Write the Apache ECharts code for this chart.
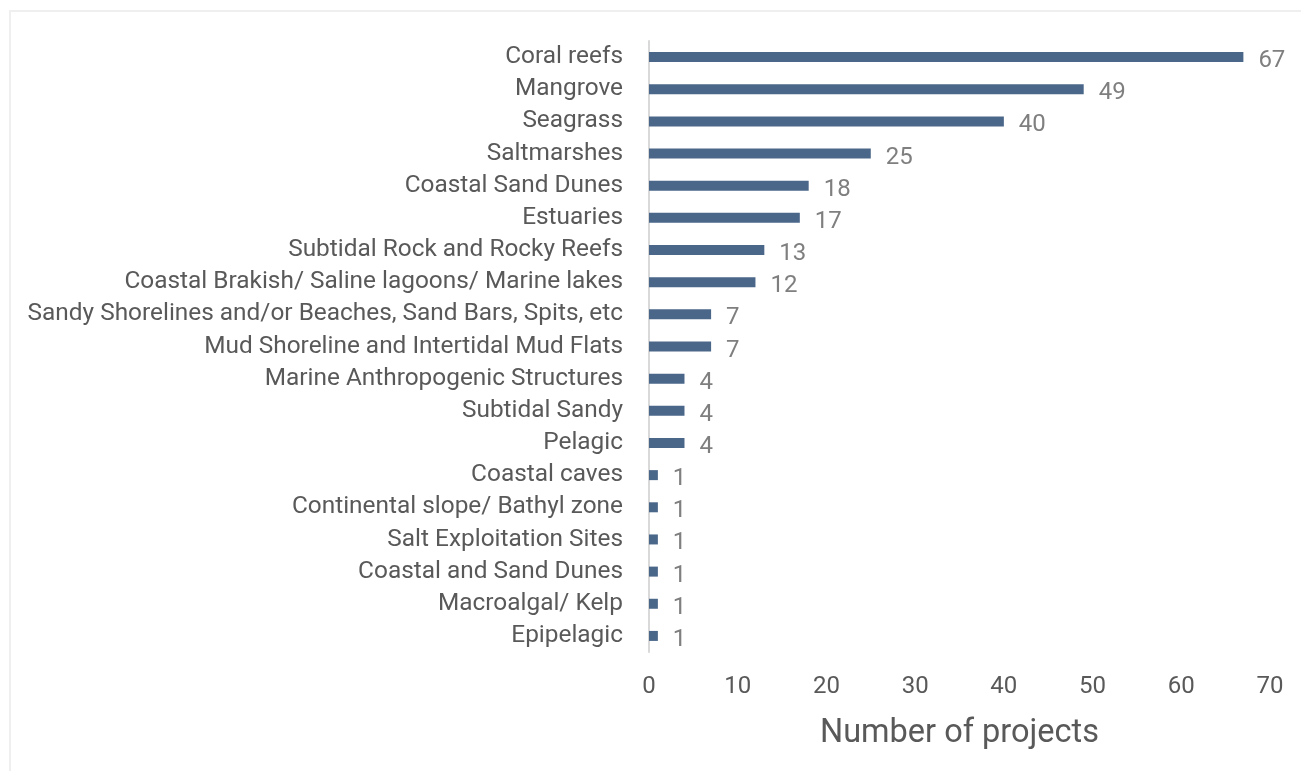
<!DOCTYPE html>
<html>
<head>
<meta charset="utf-8">
<style>
  html, body { margin: 0; padding: 0; background: #ffffff; }
  #chart { width: 1301px; height: 771px; }
</style>
<script src="https://cdn.jsdelivr.net/npm/echarts@6/dist/echarts.min.js"></script>
</head>
<body>
<div id="chart"></div>
<script>
// Habitat categories, listed top to bottom
const categories = [
  'Coral reefs',
  'Mangrove',
  'Seagrass',
  'Saltmarshes',
  'Coastal Sand Dunes',
  'Estuaries',
  'Subtidal Rock and Rocky Reefs',
  'Coastal Brakish/ Saline lagoons/ Marine lakes',
  'Sandy Shorelines and/or Beaches, Sand Bars, Spits, etc',
  'Mud Shoreline and Intertidal Mud Flats',
  'Marine Anthropogenic Structures',
  'Subtidal Sandy',
  'Pelagic',
  'Coastal caves',
  'Continental slope/ Bathyl zone',
  'Salt Exploitation Sites',
  'Coastal and Sand Dunes',
  'Macroalgal/ Kelp',
  'Epipelagic'
];

// Number of projects per habitat
const projectCounts = [67, 49, 40, 25, 18, 17, 13, 12, 7, 7, 4, 4, 4, 1, 1, 1, 1, 1, 1];

const axisTitle = 'Number of projects';

const FONT = 'Roboto, "Noto Sans", sans-serif';

const chart = echarts.init(document.getElementById('chart'), null, { renderer: 'canvas' });

chart.setOption({
  backgroundColor: '#ffffff',
  animation: false,
  textStyle: { fontFamily: FONT },
  graphic: [{
    type: 'rect',
    shape: { x: 10, y: 11, width: 1300, height: 770 },
    style: { fill: 'none', stroke: '#efefef', lineWidth: 2 },
    silent: true,
    z: -1
  }],
  grid: {
    left: 649,
    right: 31,
    top: 41,
    bottom: 119,
    containLabel: false
  },
  xAxis: {
    type: 'value',
    min: 0,
    max: 70,
    interval: 10,
    name: axisTitle,
    nameLocation: 'middle',
    nameGap: 65,
    nameTextStyle: { fontSize: 32.5, color: '#595959', fontFamily: FONT },
    axisLine: { show: false },
    axisTick: { show: false },
    splitLine: { show: false },
    axisLabel: { fontSize: 24, color: '#595959', margin: 23, fontFamily: FONT }
  },
  yAxis: {
    type: 'category',
    inverse: true,
    data: categories,
    axisLine: { show: true, lineStyle: { color: '#d9d9d9', width: 2 } },
    axisTick: { show: false },
    axisLabel: {
      fontSize: 24.4,
      color: '#595959',
      margin: 26,
      padding: [4, 0, 0, 0],
      fontFamily: FONT
    }
  },
  series: [{
    type: 'bar',
    data: projectCounts,
    barWidth: 10,
    itemStyle: { color: '#4a6689' },
    label: {
      show: true,
      position: 'right',
      distance: 15,
      offset: [0, 4],
      fontSize: 24,
      color: '#7f7f7f',
      fontFamily: FONT
    }
  }]
});
</script>
</body>
</html>
